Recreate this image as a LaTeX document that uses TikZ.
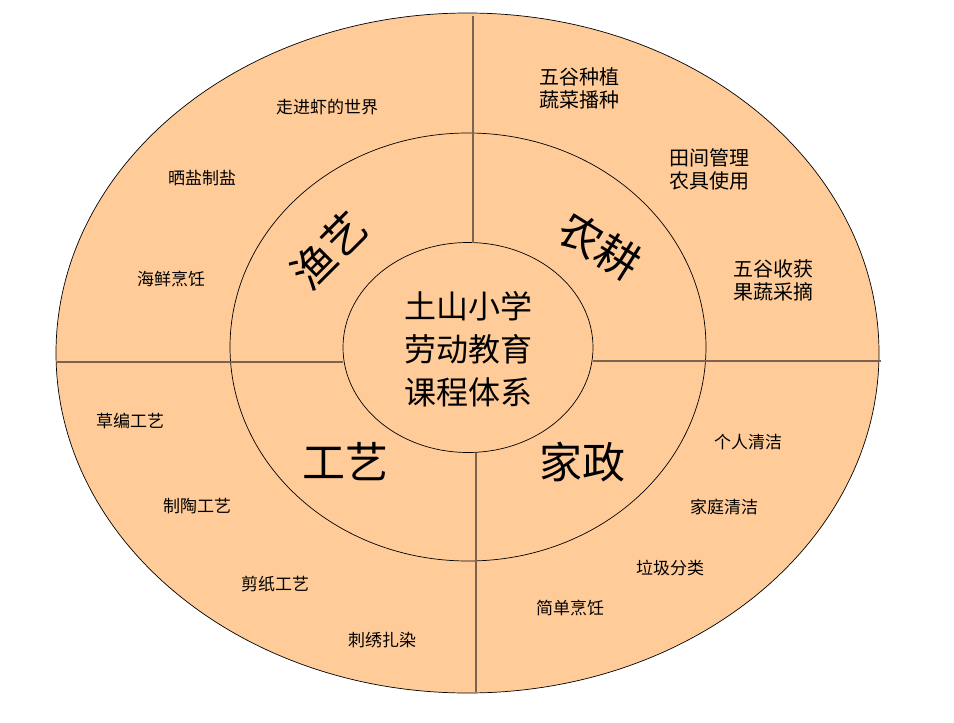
\documentclass[tikz,border=0pt]{standalone}
\usepackage{fontspec}
\newfontfamily\cjk{Noto Sans CJK SC}
\definecolor{PeachFill}{RGB}{255,204,153}
\definecolor{DividerBrown}{RGB}{122,100,80}
\colorlet{ColourBase}{PeachFill}
\colorlet{ColourLine}{DividerBrown}

\begin{document}
\begin{tikzpicture}[x=1pt, y=-1pt,
  ring/.style={draw=black, line width=0.7pt},
  divider/.style={ColourLine, line width=1.6pt},
  item/.style={font=\cjk\fontsize{17}{21}\selectfont, inner sep=0pt},
  itempair/.style={font=\cjk\fontsize{20}{23}\selectfont, inner sep=0pt, align=left},
  branch/.style={font=\cjk\fontsize{43}{46}\selectfont, inner sep=0pt},
]

  \useasboundingbox (0,0) rectangle (954,723);

  \fill[ColourBase] (467.5,353) ellipse [x radius=411.5, y radius=340];
  \draw[ring] (467.5,353) ellipse [x radius=411.5, y radius=340];
  \draw[ring] (468,347) ellipse [x radius=238, y radius=214];
  \draw[ring] (468,347.5) ellipse [x radius=125, y radius=105];

  \draw[divider] (473,16) -- (473,243);
  \draw[divider] (57,362) -- (343,362);
  \draw[divider] (593,361) -- (881,361);
  \draw[divider] (476,453) -- (476,692);

  \node[font=\cjk\fontsize{32}{43}\selectfont, align=center, inner sep=0pt] (core) at (468,349)
    {土山小学\\劳动教育\\课程体系};

  \node[branch, rotate=45] (yuyi) at (329,250) {渔艺};
  \node[branch, rotate=-32] (nonggeng) at (600,246) {农耕};
  \node[branch] (gongyi) at (345,462) {工艺};
  \node[branch] (jiazheng) at (582,462) {家政};

  \node[item] (shrimp) at (327,107) {走进虾的世界};
  \node[item] (salt) at (202,178) {晒盐制盐};
  \node[item] (seafood) at (171,279) {海鲜烹饪};

  \node[itempair] (sowing) at (579,88) {五谷种植\\蔬菜播种};
  \node[itempair] (field) at (709,169) {田间管理\\农具使用};
  \node[itempair] (harvest) at (773,280) {五谷收获\\果蔬采摘};

  \node[item] (straw) at (130,421) {草编工艺};
  \node[item] (pottery) at (197,506) {制陶工艺};
  \node[item] (papercut) at (275,584) {剪纸工艺};
  \node[item] (embroid) at (382,640) {刺绣扎染};

  \node[item] (personal) at (748,442) {个人清洁};
  \node[item] (home) at (724,507) {家庭清洁};
  \node[item] (garbage) at (670,568) {垃圾分类};
  \node[item] (cooking) at (570,608) {简单烹饪};

\end{tikzpicture}
\end{document}
